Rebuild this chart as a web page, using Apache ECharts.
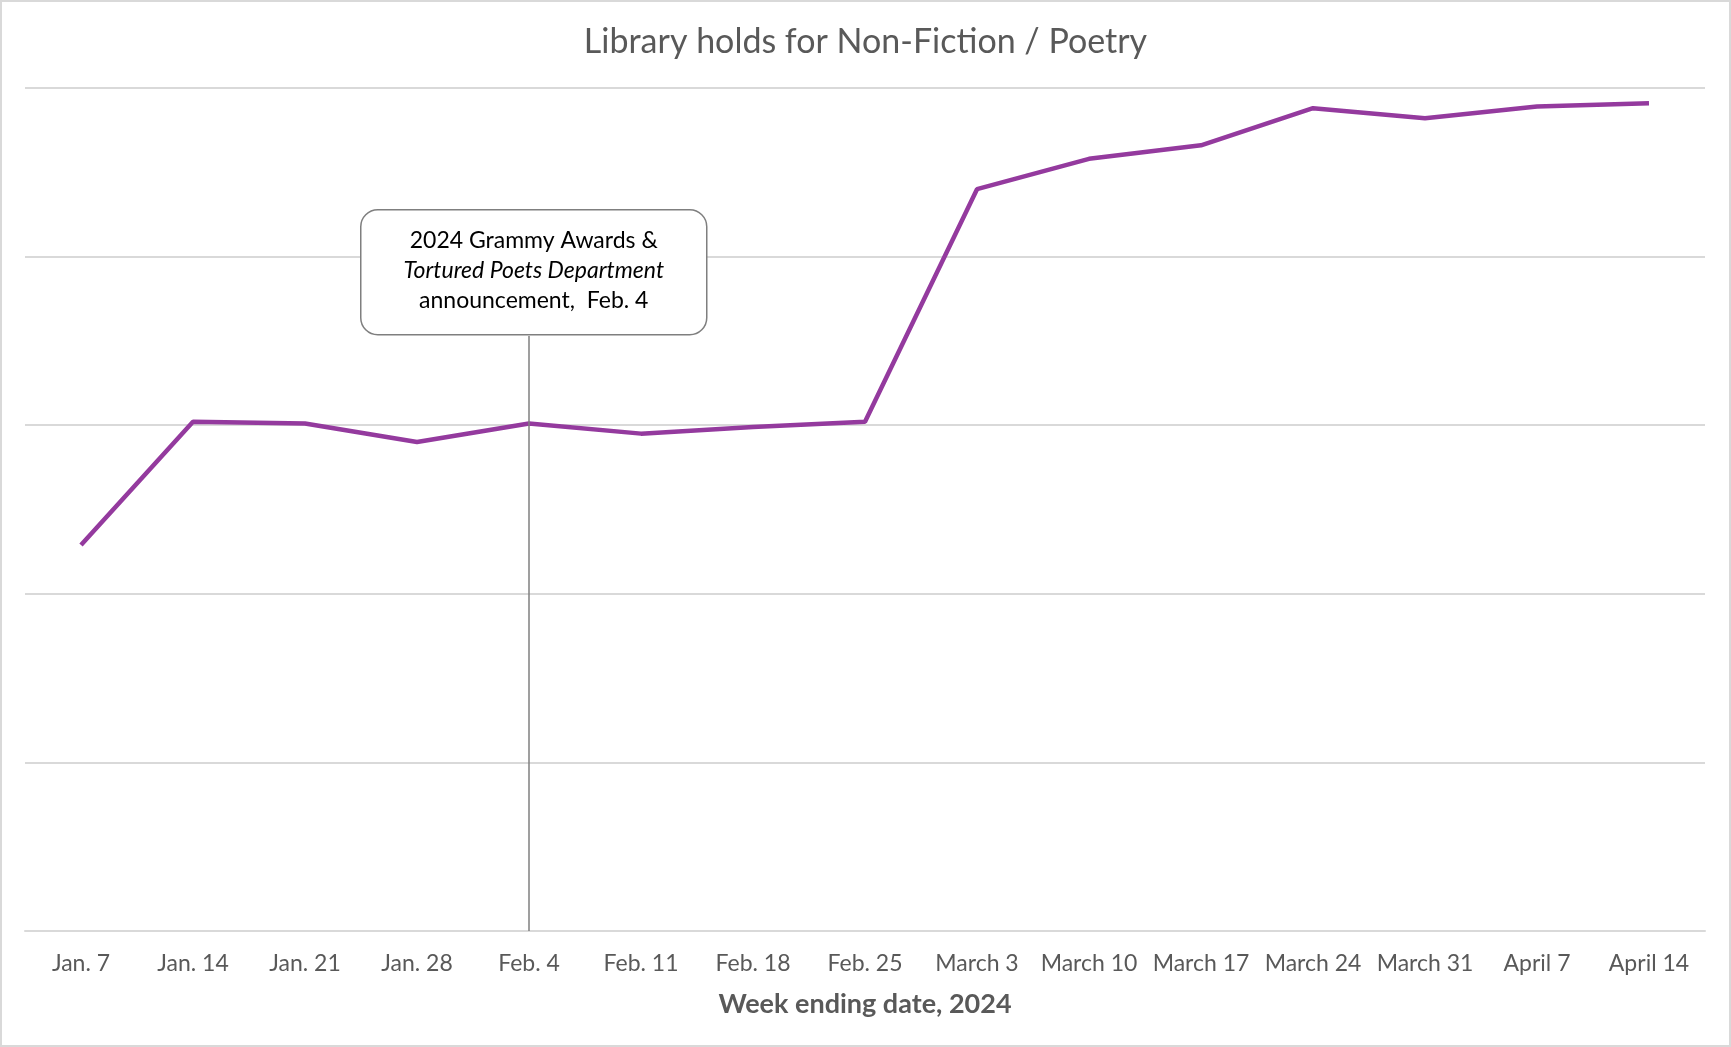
<!DOCTYPE html>
<html>
<head>
<meta charset="utf-8">
<title>Library holds for Non-Fiction / Poetry</title>
<script src="https://cdn.jsdelivr.net/npm/echarts@6/dist/echarts.min.js"></script>
<style>
  html, body { margin: 0; padding: 0; background: #fff; }
  #chart { width: 1731px; height: 1047px; box-sizing: border-box; border: 2px solid #d9d9d9; }
</style>
</head>
<body>
<div id="chart"></div>
<script>
// Week ending dates (x axis)
const weeks = ['Jan. 7', 'Jan. 14', 'Jan. 21', 'Jan. 28', 'Feb. 4', 'Feb. 11', 'Feb. 18', 'Feb. 25',
  'March 3', 'March 10', 'March 17', 'March 24', 'March 31', 'April 7', 'April 14'];

// Relative hold counts (no y labels in the original)
const holds = [2.29, 3.02, 3.01, 2.90, 3.01, 2.95, 2.99, 3.02,
  4.40, 4.58, 4.66, 4.88, 4.82, 4.89, 4.91];

const eventWeek = 'Feb. 4';
const eventLines = ['2024 Grammy Awards &', 'Tortured Poets Department', 'announcement,  Feb. 4'];

const grey = '#595959';
const font = 'Lato, "Open Sans", sans-serif';

const chart = echarts.init(document.getElementById('chart'), null, { renderer: 'canvas' });

const boxW = 346, boxH = 125, boxTop = 207;

chart.setOption({
  animation: false,
  title: {
    text: 'Library holds for Non-Fiction / Poetry',
    left: 'center',
    top: 18,
    textStyle: { fontFamily: font, fontSize: 34, fontWeight: 'normal', color: grey }
  },
  grid: { left: 23, right: 24, top: 86, bottom: 114 },
  xAxis: {
    type: 'category',
    data: weeks,
    boundaryGap: true,
    name: 'Week ending date, 2024',
    nameLocation: 'middle',
    nameGap: 60,
    nameTextStyle: { fontFamily: font, fontSize: 27, fontWeight: 'bold', color: grey },
    axisLine: { lineStyle: { color: '#d9d9d9', width: 2 } },
    axisTick: { show: false },
    axisLabel: { fontFamily: font, fontSize: 23, color: grey, margin: 21, interval: 0 }
  },
  yAxis: {
    type: 'value',
    min: 0,
    max: 5,
    interval: 1,
    axisLabel: { show: false },
    axisLine: { show: false },
    axisTick: { show: false },
    splitLine: { lineStyle: { color: '#d9d9d9', width: 2 } }
  },
  series: [{
    type: 'line',
    data: holds,
    symbol: 'none',
    lineStyle: { color: '#943a9e', width: 4.5 }
  }]
});

// Leader line from the bottom of the callout down to the axis
const cx = chart.convertToPixel({ xAxisIndex: 0 }, eventWeek) + 4;
const topVal = chart.convertFromPixel({ yAxisIndex: 0 }, boxTop + boxH + 2);
chart.setOption({
  series: [{
    markLine: {
      silent: true,
      symbol: 'none',
      label: { show: false },
      lineStyle: { color: '#7f7f7f', width: 1.5, type: 'solid' },
      data: [[{ coord: [eventWeek, topVal] }, { coord: [eventWeek, 0] }]]
    }
  }],
  graphic: [{
    type: 'group',
    left: cx - boxW / 2,
    top: boxTop,
    z: 100,
    children: [{
      type: 'rect',
      shape: { x: 0, y: 0, width: boxW, height: boxH, r: 17 },
      style: { fill: '#fff', stroke: '#7f7f7f', lineWidth: 1.5 }
    }, {
      type: 'text',
      x: boxW / 2,
      y: boxH / 2 - 2,
      style: {
        text: '{a|' + eventLines[0] + '}\n{b|' + eventLines[1] + '}\n{a|' + eventLines[2] + '}',
        align: 'center',
        verticalAlign: 'middle',
        rich: {
          a: { fontFamily: font, fontSize: 23, color: '#000', lineHeight: 30 },
          b: { fontFamily: font, fontSize: 23, fontStyle: 'italic', color: '#000', lineHeight: 30 }
        }
      }
    }]
  }]
});
</script>
</body>
</html>
